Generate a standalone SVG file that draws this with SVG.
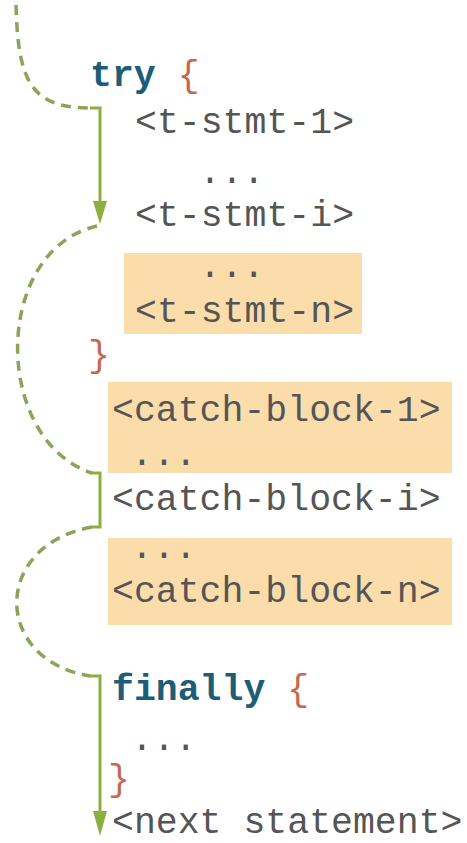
<svg xmlns="http://www.w3.org/2000/svg" width="467" height="843" viewBox="0 0 467 843">
<style>
text{font-family:"Liberation Mono","Courier New",monospace;font-size:36.5px;fill:#555555}
.kw{fill:#1d5d78;font-weight:bold}
.br{fill:#c8664e}
.box{fill:#fbdcab}
.dash{fill:none;stroke:#8aa45a;stroke-width:3.5;stroke-dasharray:10 7}
.solid{fill:none;stroke:#8bb040;stroke-width:3}
.head{fill:#8bb040}
</style>
<rect width="467" height="843" fill="#ffffff"/>
<g id="boxes">
<rect class="box" x="124" y="253" width="238" height="81"/>
<rect class="box" x="108" y="382" width="344" height="91"/>
<rect class="box" x="108" y="538" width="344" height="87"/>
</g>
<g id="try"><text x="90" y="86"><tspan class="kw">try</tspan> <tspan class="br">{</tspan></text></g>
<g id="t-stmt-1"><text x="135" y="133">&lt;t-stmt-1&gt;</text></g>
<g id="dots1"><text x="199" y="183">...</text></g>
<g id="t-stmt-i"><text x="135" y="226">&lt;t-stmt-i&gt;</text></g>
<g id="dots2"><text x="199" y="277">...</text></g>
<g id="t-stmt-n"><text x="135" y="322">&lt;t-stmt-n&gt;</text></g>
<g id="close1"><text class="br" x="88" y="366">}</text></g>
<g id="catch-1"><text x="112" y="421">&lt;catch-block-1&gt;</text></g>
<g id="dots3"><text x="131" y="465">...</text></g>
<g id="catch-i"><text x="112" y="510">&lt;catch-block-i&gt;</text></g>
<g id="dots4"><text x="131" y="558">...</text></g>
<g id="catch-n"><text x="112" y="602">&lt;catch-block-n&gt;</text></g>
<g id="finally"><text x="112" y="700"><tspan class="kw">finally</tspan> <tspan class="br">{</tspan></text></g>
<g id="dots5"><text x="131" y="750">...</text></g>
<g id="close2"><text class="br" x="108" y="790">}</text></g>
<g id="next"><text x="112" y="833">&lt;next statement&gt;</text></g>
<g id="connectors">
<path class="dash" d="M16,5 C18,80 30,108 90,108"/>
<path class="solid" d="M90,108 H100 V204"/>
<polygon class="head" points="93,201 107,201 100,224"/>
<path class="dash" d="M97,226 C-8,250 -8,440 92,473"/>
<path class="solid" d="M90,473 H100 V527 H92"/>
<path class="dash" d="M92,527 C-8,545 -8,660 90,676"/>
<path class="solid" d="M90,676 H100 V814"/>
<polygon class="head" points="93,811 107,811 100,836"/>
</g>
</svg>
